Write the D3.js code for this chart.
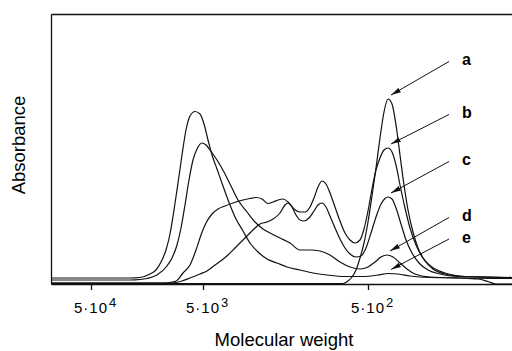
<!DOCTYPE html>
<html>
<head>
<meta charset="utf-8">
<script src="https://cdn.jsdelivr.net/npm/d3@7"></script>
<style>
body { margin: 0; background: #fff; }
svg { display: block; font-family: "Liberation Sans", Arial, Helvetica, sans-serif; }
</style>
</head>
<body>
<svg id="chart"></svg>
<script>
// GPC traces: [elution volume (mL), absorbance]
var curveA = [[10.00,0.005],[24.60,0.005],[24.85,0.03],[25.05,0.07],[25.25,0.14],[25.45,0.26],[25.65,0.41],[25.85,0.62],[26.05,0.88],[26.25,1.16],[26.45,1.46],[26.65,1.72],[26.85,1.85],[27.05,1.80],[27.25,1.59],[27.45,1.29],[27.65,0.99],[27.85,0.74],[28.10,0.52],[28.35,0.36],[28.70,0.23],[29.10,0.15],[29.70,0.10],[30.70,0.075],[33.05,0.065]]

var curveB = [[10.00,0.01],[15.70,0.01],[16.05,0.02],[16.30,0.035],[16.60,0.11],[16.95,0.19],[17.25,0.34],[17.50,0.49],[17.75,0.61],[18.05,0.70],[18.35,0.75],[18.70,0.78],[19.10,0.81],[19.60,0.84],[19.95,0.855],[20.25,0.865],[20.55,0.85],[20.85,0.805],[21.10,0.82],[21.35,0.84],[21.60,0.85],[21.85,0.82],[22.15,0.75],[22.45,0.72],[22.70,0.72],[22.95,0.77],[23.15,0.86],[23.35,0.97],[23.55,1.03],[23.75,1.00],[23.95,0.91],[24.20,0.77],[24.45,0.63],[24.70,0.51],[24.95,0.44],[25.20,0.41],[25.45,0.44],[25.65,0.55],[25.85,0.73],[26.05,0.95],[26.25,1.14],[26.45,1.26],[26.65,1.34],[26.85,1.36],[27.05,1.32],[27.25,1.19],[27.45,0.99],[27.70,0.76],[27.95,0.56],[28.25,0.39],[28.60,0.26],[29.05,0.17],[29.70,0.11],[30.70,0.075],[33.05,0.065]]

var curveC = [[10.00,0.01],[15.95,0.01],[16.25,0.015],[16.55,0.03],[16.95,0.06],[17.45,0.10],[17.80,0.13],[18.20,0.19],[18.55,0.24],[18.85,0.29],[19.20,0.36],[19.55,0.43],[19.85,0.49],[20.15,0.55],[20.45,0.60],[20.80,0.62],[21.10,0.65],[21.45,0.71],[21.70,0.79],[21.85,0.81],[22.05,0.77],[22.25,0.69],[22.45,0.64],[22.65,0.63],[22.90,0.66],[23.15,0.73],[23.35,0.79],[23.55,0.81],[23.75,0.77],[23.95,0.68],[24.20,0.56],[24.45,0.45],[24.70,0.36],[24.95,0.30],[25.25,0.27],[25.50,0.28],[25.75,0.36],[26.00,0.51],[26.25,0.67],[26.50,0.80],[26.70,0.855],[26.85,0.87],[27.05,0.85],[27.25,0.76],[27.50,0.60],[27.75,0.44],[28.05,0.31],[28.40,0.21],[28.85,0.14],[29.45,0.10],[30.45,0.075],[33.05,0.065]]

var curveD = [[10.00,0.04],[13.95,0.04],[14.45,0.045],[14.80,0.055],[15.30,0.09],[15.80,0.18],[16.05,0.26],[16.30,0.39],[16.50,0.56],[16.70,0.79],[16.90,1.04],[17.10,1.24],[17.30,1.35],[17.55,1.41],[17.75,1.39],[17.95,1.34],[18.30,1.24],[18.65,1.12],[18.95,1.00],[19.35,0.84],[19.80,0.72],[20.20,0.62],[20.60,0.55],[21.05,0.50],[21.45,0.46],[21.95,0.41],[22.45,0.34],[22.95,0.34],[23.45,0.33],[23.95,0.29],[24.45,0.22],[24.95,0.17],[25.45,0.15],[25.85,0.17],[26.20,0.22],[26.50,0.27],[26.80,0.29],[27.10,0.27],[27.45,0.21],[27.80,0.15],[28.20,0.10],[28.95,0.07],[30.45,0.06],[33.05,0.055]]

var curveE = [[10.00,0.06],[13.95,0.06],[14.45,0.065],[14.95,0.10],[15.25,0.14],[15.50,0.22],[15.75,0.34],[15.95,0.50],[16.15,0.74],[16.35,1.01],[16.55,1.29],[16.75,1.54],[16.95,1.68],[17.20,1.725],[17.45,1.70],[17.65,1.60],[17.85,1.44],[18.05,1.29],[18.30,1.15],[18.60,0.98],[18.95,0.79],[19.25,0.65],[19.60,0.53],[19.95,0.41],[20.30,0.33],[20.80,0.25],[21.30,0.21],[21.80,0.17],[22.45,0.14],[23.10,0.11],[23.80,0.09],[24.70,0.075],[25.70,0.075],[26.35,0.09],[26.85,0.105],[27.35,0.10],[27.95,0.08],[28.95,0.065],[30.45,0.06],[31.35,0.05],[31.85,0.025],[32.25,0.0],[33.05,0.0]]

var curveKeys = ['a', 'b', 'c', 'd', 'e']
var curves = [curveA, curveB, curveC, curveD, curveE]

// calibration: elution volume of the marked molecular weights
var tickVolumes = [12.0, 17.6, 25.85]
var tickMantissa = ['5·10', '5·10', '5·10']
var tickExponents = ['4', '3', '2']

var margin = {top: 14, right: 0, bottom: 67, left: 51},
	width = 512 - margin.left - margin.right,
	height = 351 - margin.top - margin.bottom;

var svg = d3.select('#chart')
	.attr('width', 512)
	.attr('height', 351)

var g = svg.append('g')
	.attr('transform', 'translate(' + margin.left + ',' + margin.top + ')')

var x = d3.scaleLinear()
	.domain([10, 33.05])
	.range([0, width])

var y = d3.scaleLinear()
	.domain([0, 2.7])
	.range([height, 0])

// frame: top and left are plain lines
g.append('g')
	.call(d3.axisTop(x).tickValues([]).tickSizeOuter(0))
g.append('g')
	.call(d3.axisLeft(y).tickValues([]).tickSizeOuter(0))

var xAxis = g.append('g')
	.attr('transform', 'translate(0,' + height + ')')
	.call(d3.axisBottom(x).tickValues(tickVolumes).tickSize(6).tickSizeOuter(0).tickFormat(''))

g.selectAll('.domain, .tick line')
	.attr('stroke', '#111')
	.attr('stroke-width', 1.3)

// tick labels with raised exponent
var tickLab = g.selectAll('.ticklab')
	.data(tickVolumes)
	.enter()
	.append('g')
		.attr('class', 'ticklab')
		.attr('transform', d => 'translate(' + x(d) + ',' + (height + 29) + ')')

tickLab.append('text')
	.attr('text-anchor', 'middle')
	.style('font-size', '15px')
	.style('letter-spacing', '1px')
	.text((d, i) => tickMantissa[i])

tickLab.append('text')
	.attr('x', 18)
	.attr('y', -6)
	.style('font-size', '13px')
	.text((d, i) => tickExponents[i])

// traces
var line = d3.line()
	.x(d => x(d[0]))
	.y(d => y(d[1]))
	.curve(d3.curveMonotoneX)

g.append('g')
	.selectAll('path')
	.data(curves)
	.enter()
	.append('path')
		.attr('d', line)
		.attr('fill', 'none')
		.attr('stroke', '#111')
		.attr('stroke-width', 1.2)

// arrow labels a..e pointing at the low-MW peak
svg.append('defs').append('marker')
	.attr('id', 'head')
	.attr('viewBox', '0 0 10 6')
	.attr('refX', 10)
	.attr('refY', 3)
	.attr('markerWidth', 10)
	.attr('markerHeight', 6)
	.attr('markerUnits', 'userSpaceOnUse')
	.attr('orient', 'auto')
	.append('path')
		.attr('d', 'M0,0.5 L10,3 L0,5.5 z')
		.attr('fill', '#111')

var labelBase = [51, 104, 151, 207, 228.5] // text baselines, px from plot top

curves.forEach((c, i) => {
	var pk = d3.greatest(c.filter(d => d[0] > 25), d => d[1])
	g.append('line')
		.attr('x1', width - 63)
		.attr('y1', labelBase[i] - 3.5)
		.attr('x2', x(pk[0]) + 3)
		.attr('y2', y(pk[1]) - 4)
		.attr('stroke', '#111')
		.attr('stroke-width', 1)
		.attr('marker-end', 'url(#head)')
	g.append('text')
		.attr('x', width - 50)
		.attr('y', labelBase[i])
		.style('font-size', '16px')
		.style('font-weight', 'bold')
		.text(curveKeys[i])
})

// axis titles
svg.append('text')
	.attr('text-anchor', 'middle')
	.attr('x', 284)
	.attr('y', 346)
	.style('font-size', '18.5px')
	.text('Molecular weight')

svg.append('text')
	.attr('text-anchor', 'middle')
	.attr('transform', 'translate(25,145) rotate(-90)')
	.style('font-size', '18.5px')
	.text('Absorbance')
</script>
</body>
</html>
